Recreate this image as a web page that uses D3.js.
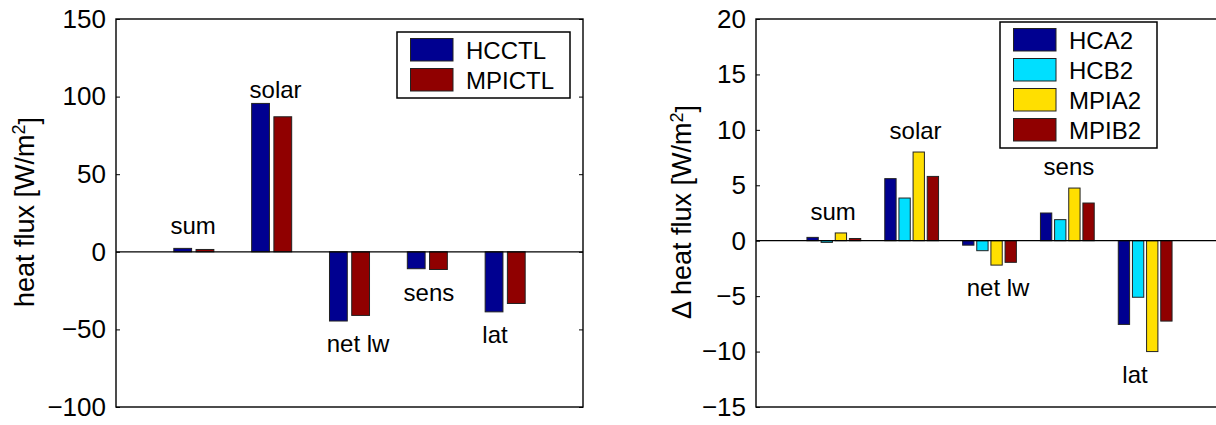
<!DOCTYPE html>
<html>
<head>
<meta charset="utf-8">
<script src="https://cdn.jsdelivr.net/npm/d3@7"></script>
<style>
  body { margin: 0; background: #fff; }
  svg { display: block; font-family: "Liberation Sans", Arial, Helvetica, sans-serif; }
</style>
</head>
<body>
<svg id="chart" width="1216" height="425"></svg>
<script>
// categories and series
const categories = ["sum", "solar", "net lw", "sens", "lat"];

const ctlNames = ["HCCTL", "MPICTL"];
const hcctl  = [2.2, 95.6, -44.6, -10.9, -38.7];
const mpictl = [1.5, 87.0, -41.0, -11.4, -33.3];

const expNames = ["HCA2", "HCB2", "MPIA2", "MPIB2"];
const hca2  = [0.3, 5.6, -0.4, 2.5, -7.55];
const hcb2  = [-0.15, 3.85, -0.9, 1.9, -5.1];
const mpia2 = [0.7, 8.0, -2.2, 4.75, -10.0];
const mpib2 = [0.2, 5.8, -1.95, 3.4, -7.25];

const leftTicks  = [-100, -50, 0, 50, 100, 150];
const rightTicks = [-15, -10, -5, 0, 5, 10, 15, 20];

// where the category names sit (data units)
const labelX      = [0.99, 2.05, 3.11, 4.02, 4.87];
const leftLabelY  = [11.2, 99.2, -64.4, -31.8, -59];
const rightLabelY = [1.87, 9.18, -4.96, 5.96, -12.79];

const ctlColors = ["#000090", "#900000"];
const expColors = ["#000090", "#00dfff", "#ffdf00", "#900000"];

const svg = d3.select("#chart");

function panel(opt) {
  const x = d3.scaleLinear().domain([0, 6]).range([opt.x0, opt.x0 + 467]);
  const y = d3.scaleLinear().domain(opt.yDomain).range([407, 19]);
  const g = svg.append("g");
  const n = opt.series.length;
  const gw = Math.min(0.8, n / (n + 1.5));
  const bw = gw / n * 0.8;

  // bars
  opt.series.forEach(function(vals, i) {
    const off = (i - (n - 1) / 2) * gw / n;
    g.append("g").selectAll("rect")
      .data(vals)
      .enter().append("rect")
      .attr("x", (d, j) => x(j + 1 + off - bw / 2))
      .attr("width", x(bw) - x(0))
      .attr("y", d => y(Math.max(0, d)))
      .attr("height", d => Math.abs(y(d) - y(0)))
      .style("fill", opt.colors[i])
      .style("stroke", "#222")
      .style("stroke-width", "1px");
  });

  // zero line
  g.append("line")
    .attr("x1", x(0)).attr("x2", x(6))
    .attr("y1", y(0)).attr("y2", y(0))
    .style("stroke", "#000").style("stroke-width", "1.2px");

  // y axis (ticks inside)
  const ax = g.append("g")
    .attr("transform", "translate(" + x(0) + ",0)")
    .call(d3.axisLeft(y).tickValues(opt.ticks).tickSize(-4).tickPadding(10).tickFormat(d3.format("d")));
  ax.select(".domain").remove();
  ax.selectAll("line").style("stroke", "#000").style("stroke-width", "1px");
  ax.selectAll("text").style("font-size", "26px").style("fill", "#000")
    .attr("font-family", null);

  const axr = g.append("g")
    .attr("transform", "translate(" + x(6) + ",0)")
    .call(d3.axisRight(y).tickValues(opt.ticks).tickSize(-4).tickFormat(""));
  axr.select(".domain").remove();
  axr.selectAll("line").style("stroke", "#000");

  // box
  g.append("rect")
    .attr("x", x(0)).attr("y", y(opt.yDomain[1]))
    .attr("width", x(6) - x(0)).attr("height", y(opt.yDomain[0]) - y(opt.yDomain[1]))
    .style("fill", "none").style("stroke", "#000").style("stroke-width", "1.4px");

  // category labels
  g.append("g").selectAll("text")
    .data(categories)
    .enter().append("text")
    .attr("x", (d, j) => x(labelX[j]))
    .attr("y", (d, j) => y(opt.labelY[j]))
    .attr("text-anchor", "middle")
    .style("font-size", "24px")
    .text(d => d);

  // y label
  const yl = g.append("text")
    .attr("transform", "translate(" + opt.labelPos[0] + "," + opt.labelPos[1] + ") rotate(-90)")
    .attr("text-anchor", "middle")
    .style("font-size", "27px");
  yl.append("tspan").text(opt.ylabel + " [W/m");
  yl.append("tspan").attr("dy", "-0.45em").style("font-size", "18px").text("2");
  yl.append("tspan").attr("dy", "0.45em").text("]");

  // legend
  const L = opt.legend;
  const lg = g.append("g");
  lg.append("rect")
    .attr("x", L.x).attr("y", L.y).attr("width", L.w).attr("height", 30 * n + 6)
    .style("fill", "#fff").style("stroke", "#000").style("stroke-width", "1.5px");
  const item = lg.selectAll("g.item")
    .data(opt.names)
    .enter().append("g")
    .attr("transform", (d, i) => "translate(" + L.x + "," + (L.y + 6.5 + i * 30) + ")");
  item.append("rect")
    .attr("x", 13.5).attr("width", 42.5).attr("height", 22.5)
    .style("fill", (d, i) => opt.colors[i])
    .style("stroke", "#222").style("stroke-width", "1px");
  item.append("text")
    .attr("x", 69).attr("y", 20.5)
    .style("font-size", "24px")
    .text(d => d);
}

panel({
  x0: 116, yDomain: [-100, 150], ticks: leftTicks,
  series: [hcctl, mpictl], colors: ctlColors, names: ctlNames,
  labelY: leftLabelY, ylabel: "heat flux", labelPos: [33.5, 212],
  legend: { x: 397, y: 32, w: 173 }
});

panel({
  x0: 756, yDomain: [-15, 20], ticks: rightTicks,
  series: [hca2, hcb2, mpia2, mpib2], colors: expColors, names: expNames,
  labelY: rightLabelY, ylabel: "\u0394 heat flux", labelPos: [691, 212],
  legend: { x: 1000, y: 22, w: 157 }
});
</script>
</body>
</html>
